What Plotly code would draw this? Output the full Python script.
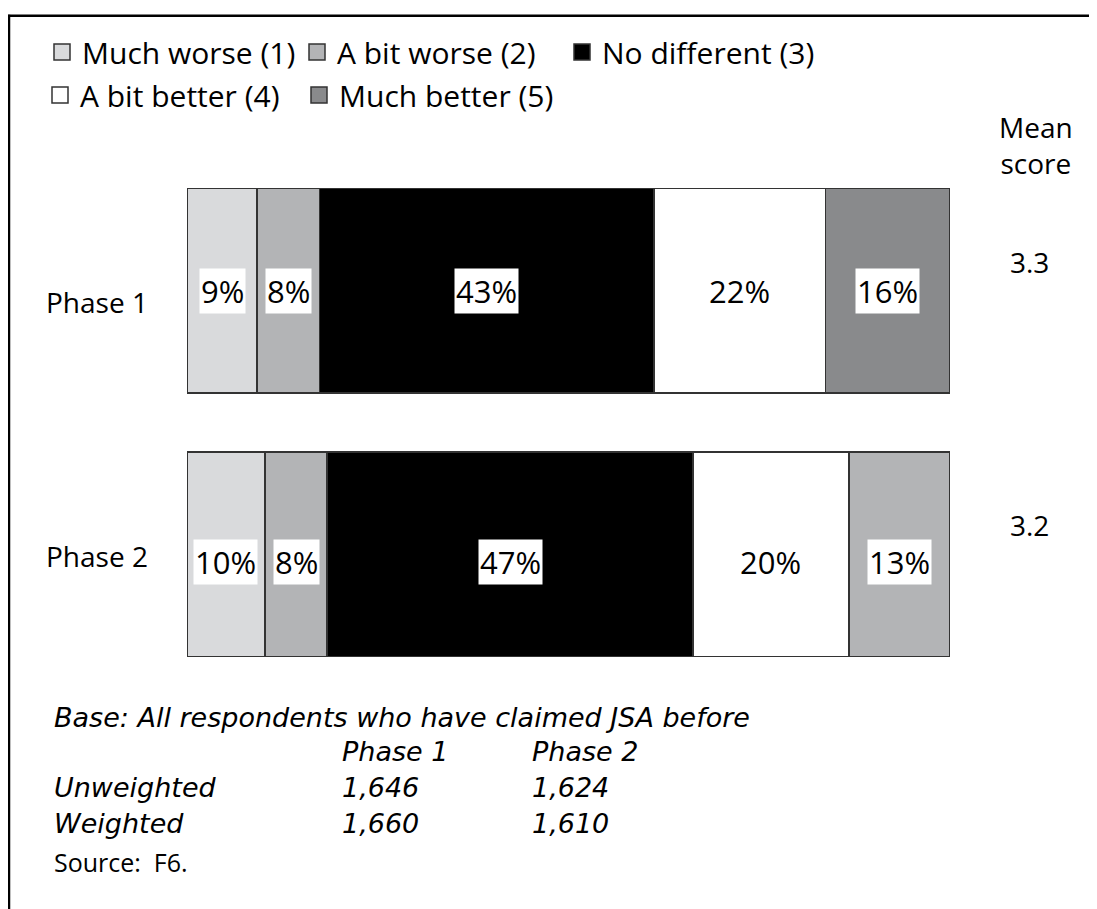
import plotly.graph_objects as go

phases = ["Phase 1", "Phase 2"]
categories = ["Much worse (1)", "A bit worse (2)", "No different (3)",
              "A bit better (4)", "Much better (5)"]
values = {
    "Much worse (1)": [9, 10],
    "A bit worse (2)": [8, 8],
    "No different (3)": [43, 47],
    "A bit better (4)": [22, 20],
    "Much better (5)": [16, 13],
}
colors = {
    "Much worse (1)": ["#d9dadc", "#d9dadc"],
    "A bit worse (2)": ["#b3b4b6", "#b3b4b6"],
    "No different (3)": ["#000000", "#000000"],
    "A bit better (4)": ["#ffffff", "#ffffff"],
    "Much better (5)": ["#898a8c", "#b3b4b6"],
}
legend_colors = ["#d9dadc", "#b3b4b6", "#000000", "#ffffff", "#898a8c"]
mean_scores = ["3.3", "3.2"]
base_cols = ["Phase 1", "Phase 2"]
base_rows = [("Unweighted", "1,646", "1,624"), ("Weighted", "1,660", "1,610")]

FONT = "Open Sans"
BASE_FONT = "DejaVu Sans"
OFF = 8  # page body margin
W, H = 1097 - OFF, 909 - OFF
ML, MR, MT, MB = 179, 147, 150.5, 222.5
PW, PH = W - ML - MR, H - MT - MB


def px(x):  # page x -> paper
    return (x - OFF - ML) / PW


def py(y):  # page y -> paper
    return (H - MB - (y - OFF)) / PH


def cx(x):  # page x -> container
    return (x - OFF) / W


def cy(y):  # page y -> container
    return 1 - (y - OFF) / H


fig = go.Figure()
leg_pos = [(82, 52), (337, 52), (602, 52), (80, 95), (339, 95)]
leg_font = dict(family=FONT, size=30, color="black")
legends = {}
for i, cat in enumerate(categories):
    fig.add_trace(go.Bar(
        y=phases, x=values[cat], name=cat, orientation="h",
        marker=dict(color=colors[cat], line=dict(color="#333333", width=1.5)),
        showlegend=False, hoverinfo="skip",
    ))
    lname = "legend" if i == 0 else f"legend{i + 1}"
    fig.add_trace(go.Scatter(
        x=[None], y=[None], mode="markers", name=cat,
        marker=dict(symbol="square", size=16, color=legend_colors[i],
                    line=dict(color="#333333", width=1.5)),
        legend=lname, hoverinfo="skip",
    ))
    tx, ty = leg_pos[i]
    legends[lname] = dict(
        orientation="h", x=cx(tx - 40), xref="container", y=cy(ty), yref="container",
        xanchor="left", yanchor="middle", font=leg_font, itemclick=False,
        itemdoubleclick=False, bgcolor="rgba(0,0,0,0)", borderwidth=0,
        itemsizing="trace",
    )

annotations = []
for pi, ph in enumerate(phases):
    cum = 0
    for cat in categories:
        v = values[cat][pi]
        annotations.append(dict(
            x=cum + v / 2, y=ph, xref="x", yref="y", text=f"{v}%",
            showarrow=False, bgcolor="white", borderpad=1,
            xanchor="center", yanchor="middle",
            font=dict(family=FONT, size=31, color="black"),
            yshift=0 if pi == 0 else -8,
        ))
        cum += v
    # category label
    annotations.append(dict(
        x=px(150), y=ph, xref="paper", yref="y", text=ph, showarrow=False,
        xanchor="right", yanchor="middle", yshift=-11 if pi == 0 else -2,
        font=dict(family=FONT, size=28, color="black"),
    ))
    annotations.append(dict(
        x=px(1029), y=ph, xref="paper", yref="y", text=mean_scores[pi],
        showarrow=False, xanchor="center", yanchor="middle",
        yshift=28.5 if pi == 0 else 29.5,
        font=dict(family=FONT, size=28, color="black"),
    ))

annotations.append(dict(
    x=px(1036), y=py(144), xref="paper", yref="paper", text="Mean<br>score",
    showarrow=False, xanchor="center", yanchor="middle", align="center",
    font=dict(family=FONT, size=28, color="black"),
))

ital = dict(family=BASE_FONT, size=27, color="black", style="italic")


def left_text(x, y, text, font=ital, h=33):
    annotations.append(dict(x=px(x), y=py(y), xref="paper", yref="paper",
                            xanchor="left", yanchor="middle", text=text, height=h,
                            valign="middle", showarrow=False, font=font))


left_text(52, 718, "Base: All respondents who have claimed JSA before")
left_text(340, 752, base_cols[0])
left_text(530, 752, base_cols[1])
for ri, (lab, a, b) in enumerate(base_rows):
    yy = 788 + ri * 36
    left_text(52, yy, lab)
    left_text(340, yy, a)
    left_text(530, yy, b)
left_text(52, 862, "Source:&nbsp; F6.", dict(family=FONT, size=25, color="black"), h=33)

shapes = [
    dict(type="line", xref="paper", yref="paper", x0=px(8), x1=px(1110), y0=py(15), y1=py(15),
         line=dict(color="black", width=2.5)),
    dict(type="line", xref="paper", yref="paper", x0=px(9), x1=px(9), y0=py(14), y1=py(920),
         line=dict(color="black", width=2.5)),
]

fig.update_layout(
    width=W, height=H,
    margin=dict(l=ML, r=MR, t=MT, b=MB),
    paper_bgcolor="white", plot_bgcolor="white",
    barmode="stack", bargap=0.223,
    xaxis=dict(range=[0, 98], visible=False, fixedrange=True),
    yaxis=dict(autorange="reversed", showgrid=False, showline=False, ticks="",
               showticklabels=False, fixedrange=True),
    annotations=annotations, shapes=shapes,
    font=dict(family=FONT, color="black"),
    **legends,
)
fig.write_html("out.html")
